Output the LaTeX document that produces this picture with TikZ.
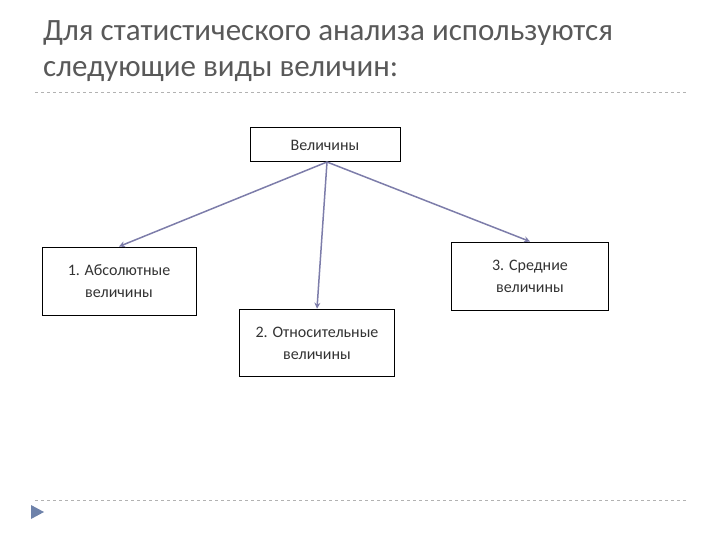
\documentclass[tikz,border=0pt]{standalone}
\usepackage{fontspec}
\setmainfont{Carlito}
\usetikzlibrary{arrows.meta}
\definecolor{conncol}{RGB}{125,125,170}
\definecolor{tricol}{RGB}{110,130,170}
\begin{document}
\begin{tikzpicture}[x=1pt,y=-1pt,
  box/.style={draw=black,line width=1pt,fill=white,align=center,font=\fontsize{16}{22}\selectfont,text=black!80},
  conn/.style={draw=conncol,line width=1.5pt,-{Stealth[length=6pt,width=6pt]}},
  sep/.style={draw=black!30,dashed,line width=0.6pt}]
\useasboundingbox (0,0) rectangle (720,540);
\node[anchor=north west,align=left,text=black!65,font=\fontsize{31}{36}\selectfont,inner sep=0] (title) at (43,20) {Для статистического анализа используются\\следующие виды величин:};
\coordinate (s1) at (35,92); \coordinate (s2) at (686,92);
\draw[sep] (s1) -- (s2);
\coordinate (b1) at (35,500); \coordinate (b2) at (686,500);
\draw[sep] (b1) -- (b2);
\fill[tricol] (31,505) -- (44,512) -- (31,519) -- cycle;
\node[box,minimum width=150,minimum height=34] (v) at (325,145) {Величины};
\node[box,minimum width=154,minimum height=68] (a) at (119,281) {1. Абсолютные\\величины};
\node[box,minimum width=157,minimum height=68] (c) at (530,276) {3. Средние\\величины};
\node[box,line width=1.6pt,minimum width=155,minimum height=67] (r) at (317,343) {2. Относительные\\величины};
\coordinate (o) at (327,162);
\draw[conn] (o) -- (a.north);
\draw[conn] (o) -- (r.north);
\draw[conn] (o) -- (c.north);
\end{tikzpicture}
\end{document}
